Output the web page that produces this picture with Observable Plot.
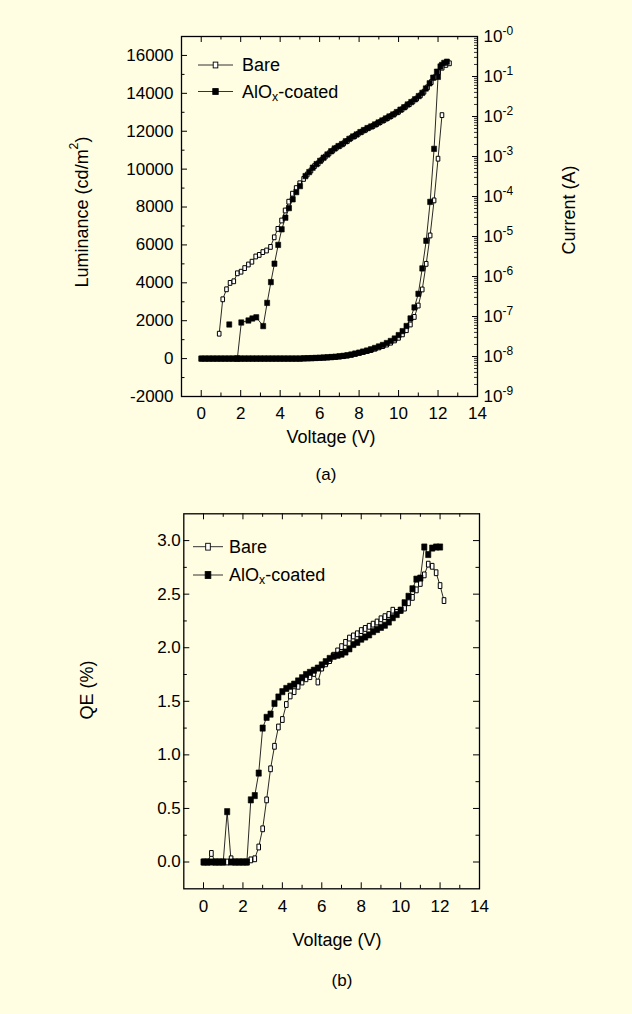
<!DOCTYPE html>
<html><head><meta charset="utf-8">
<script src="https://cdn.jsdelivr.net/npm/d3@7"></script>
<script src="https://cdn.jsdelivr.net/npm/@observablehq/plot@0.6"></script>
<style>
html,body{margin:0;padding:0;background:#FFFEE3;}
#root{position:relative;width:632px;height:1014px;background:#FFFEE3;overflow:hidden;}
#root svg{position:absolute;left:0;}
</style></head>
<body><div id="root"></div>
<script>
// ---------- data ----------
const voltLum = [0,0.2,0.4,0.6,0.8,1,1.2,1.4,1.6,1.8,2,2.2,2.4,2.6,2.8,3,3.2,3.4,3.6,3.8,4,4.2,4.4,4.6,4.8,5,5.2,5.4,5.6,5.8,6,6.2,6.4,6.6,6.8,7,7.2,7.4,7.6,7.8,8,8.2,8.4,8.6,8.8,9,9.2,9.4,9.6,9.8,10,10.2,10.4,10.6,10.8,11,11.2,11.4,11.6,11.8,12,12.2];
const lumBare = [0,0,0,0,0,0,0,0,0,0,0,0,0,0,0,0,0,0,0,0,0,0,0,0,0,0,10,15,20,30,40,50,60,75,90,110,130,160,200,250,300,350,400,450,520,590,660,740,840,960,1100,1280,1500,1800,2200,2800,3650,5000,6500,8350,10550,12850];
const lumCoated = [0,0,0,0,0,0,0,0,0,0,0,0,0,0,0,0,0,0,0,0,0,0,0,0,0,0,12,18,25,35,45,55,68,82,100,120,145,175,215,265,315,370,425,490,560,640,720,820,930,1060,1240,1450,1720,2120,2700,3420,4760,6220,8270,11070,14870,15500];

// current: log10 of current in A
const bareCurV = [0.91,1.09,1.28,1.46,1.65,1.83,2.02,2.20,2.39,2.57,2.76,2.94,3.12,3.31,3.51,3.70,3.88,4.07,4.25,4.43,4.62,4.81,4.99,5.19,5.37,5.56,5.74,5.93,6.11,6.29,6.48,6.67,6.85,7.04,7.22,7.41,7.59,7.78,7.96,8.15,8.33,8.51,8.70,8.89,9.07,9.26,9.44,9.62,9.81,10.00,10.18,10.37,10.55,10.73,10.92,11.11,11.29,11.47,11.66,11.84,12.03,12.21,12.40,12.58];
const bareCurLog = [-7.43,-6.57,-6.32,-6.16,-6.12,-5.92,-5.88,-5.79,-5.70,-5.63,-5.50,-5.46,-5.39,-5.35,-5.26,-5.02,-4.81,-4.60,-4.35,-4.13,-3.93,-3.79,-3.67,-3.56,-3.45,-3.35,-3.24,-3.17,-3.08,-3.00,-2.92,-2.85,-2.78,-2.73,-2.67,-2.61,-2.54,-2.49,-2.43,-2.38,-2.33,-2.28,-2.24,-2.19,-2.14,-2.09,-2.04,-1.99,-1.93,-1.88,-1.82,-1.75,-1.69,-1.62,-1.55,-1.47,-1.38,-1.27,-1.14,-1.02,-0.89,-0.78,-0.71,-0.67];
const coatCurV = [1.42,1.62,1.83,2.03,2.39,2.59,2.79,3.14,3.34,3.53,3.71,3.90,4.08,4.27,4.45,4.64,4.82,5.01,5.28,5.47,5.65,5.84,6.02,6.20,6.39,6.58,6.76,6.95,7.13,7.32,7.50,7.69,7.87,8.06,8.24,8.42,8.61,8.80,8.98,9.17,9.35,9.53,9.72,9.91,10.09,10.28,10.46,10.64,10.83,11.02,11.20,11.38,11.57,11.75,11.94,12.12,12.31,12.45];
const coatCurLog = [-7.20,null,-8.05,-7.15,-7.10,-7.05,-7.02,-7.24,-6.66,-6.14,-5.68,-5.21,-4.82,-4.53,-4.29,-4.07,-3.89,-3.74,-3.49,-3.39,-3.28,-3.19,-3.11,-3.03,-2.95,-2.87,-2.80,-2.74,-2.69,-2.62,-2.56,-2.50,-2.45,-2.39,-2.34,-2.29,-2.25,-2.20,-2.15,-2.10,-2.05,-2.00,-1.95,-1.89,-1.83,-1.77,-1.70,-1.64,-1.57,-1.49,-1.41,-1.30,-1.17,-1.03,-0.88,-0.75,-0.66,-0.63];

// QE (%)
const voltQE = [0,0.2,0.4,0.6,0.8,1,1.2,1.4,1.6,1.8,2,2.2,2.4,2.6,2.8,3,3.2,3.4,3.6,3.8,4,4.2,4.4,4.6,4.8,5,5.2,5.4,5.6,5.8,6,6.2,6.4,6.6,6.8,7,7.2,7.4,7.6,7.8,8,8.2,8.4,8.6,8.8,9,9.2,9.4,9.6,9.8,10,10.2,10.4,10.6,10.8,11,11.2,11.4,11.6,11.8,12,12.2];
const qeBare = [0,0,0.08,0,0,0,0,0.03,0,0,0,0,0.02,0.03,0.14,0.31,0.58,0.87,1.08,1.26,1.33,1.47,1.55,1.59,1.64,1.68,1.71,1.73,1.76,1.68,1.81,1.85,1.88,1.93,1.97,2.01,2.05,2.09,2.11,2.13,2.16,2.18,2.20,2.22,2.24,2.27,2.29,2.31,2.35,2.33,2.35,2.37,2.42,2.47,2.54,2.60,2.68,2.78,2.76,2.70,2.58,2.44];
const qeCoated = [0,0,0,0,0,0,0.47,0,0,0,0,0,0.58,0.62,0.83,1.25,1.35,1.38,1.48,1.54,1.59,1.62,1.64,1.66,1.69,1.72,1.75,1.77,1.79,1.81,1.84,1.87,1.90,1.92,1.93,1.94,1.96,1.99,2.03,2.05,2.08,2.10,2.12,2.15,2.17,2.19,2.21,2.24,2.28,2.31,2.35,2.42,2.48,2.55,2.64,2.65,2.94,2.87,2.93,2.94,2.94];

// ticks
const xMajor = [0,2,4,6,8,10,12,14];
const xMinor = [1,3,5,7,9,11,13];
const lumMajor = [-2000,0,2000,4000,6000,8000,10000,12000,14000,16000];
const lumMinor = [-1000,1000,3000,5000,7000,9000,11000,13000,15000];
const curMajor = [-9,-8,-7,-6,-5,-4,-3,-2,-1,0];
const qeMajor = [0,0.5,1,1.5,2,2.5,3];
const qeMinor = [0.25,0.75,1.25,1.75,2.25,2.75];
const seriesNames = ["Bare", "AlO|x|-coated"];

// ---------- helpers ----------
const INK = "#000";
const LINE = "#111";
const FONT = '"Liberation Sans", Arial, Helvetica, sans-serif';
const root = document.getElementById("root");

const curMinor = [];
for (let n = -9; n < 0; n++) for (let k = 2; k <= 9; k++) curMinor.push(n + Math.log10(k));

function rectSym(w, h) { return {draw(ctx) { ctx.rect(-w/2, -h/2, w, h); }}; }
const openA = rectSym(3.6, 4.8), fillA = rectSym(5, 5.4);
const openB = rectSym(3.6, 5.8), fillB = rectSym(5.2, 6.2);

const pts = (xs, ys) => xs.map((v, i) => ({v, y: ys[i] == null ? NaN : ys[i]})).filter(d => d.y !== undefined);

function richText(svg, x, y, parts, opts = {}) {
  const size = opts.size || 18;
  const t = d3.select(svg).append("text")
    .attr("x", x).attr("y", y)
    .attr("font-family", FONT).attr("font-size", size)
    .attr("fill", INK).attr("text-anchor", opts.anchor || "middle")
    .attr("dominant-baseline", "central");
  if (opts.rotate) t.attr("transform", `rotate(${opts.rotate} ${x} ${y})`);
  let shift = 0;
  for (const [s, kind] of parts) {
    const sp = t.append("tspan").text(s);
    const target = kind === "sup" ? -0.42 * size : kind === "sub" ? 0.3 * size : 0;
    if (target !== shift) { sp.attr("dy", target - shift); shift = target; }
    if (kind) sp.attr("font-size", size * 0.68);
  }
  return t;
}

function legend(svg, x1, x2, ys, tx, syms) {
  const g = d3.select(svg).append("g");
  seriesNames.forEach((name, i) => {
    const y = ys[i];
    g.append("line").attr("x1", x1).attr("x2", x2).attr("y1", y).attr("y2", y)
      .attr("stroke", "#333").attr("stroke-width", 1);
    const s = syms[i];
    g.append("rect").attr("x", (x1 + x2) / 2 - s.w / 2).attr("y", y - s.h / 2)
      .attr("width", s.w).attr("height", s.h)
      .attr("fill", i === 0 ? "#fff" : INK).attr("stroke", INK).attr("stroke-width", 0.9);
    const parts = name.split("|").map((p, j) => [p, j === 1 ? "sub" : null]);
    richText(svg, tx, y, parts, {anchor: "start", size: 18});
  });
}

const style = {background: "transparent", fontFamily: FONT, color: INK, overflow: "visible"};

// ---------- Panel (a) ----------
const A = {top: 36, bottom: 396, left: 181, right: 477, H: 460};
const fwA = A.right - A.left, fhA = A.bottom - A.top;

const lumBareData = pts(voltLum, lumBare);
const lumCoatData = pts(voltLum, lumCoated);
const curBareData = pts(bareCurV, bareCurLog);
const curCoatData = pts(coatCurV, coatCurLog);

const plotLum = Plot.plot({
  width: 632, height: A.H,
  marginTop: A.top, marginBottom: A.H - A.bottom, marginLeft: A.left, marginRight: 632 - A.right,
  style,
  x: {domain: [-1, 14]},
  y: {domain: [-2000, 17000]},
  marks: [
    Plot.tickX(xMajor, {x: d => d, insetTop: fhA - 6, stroke: INK}),
    Plot.tickX(xMinor, {x: d => d, insetTop: fhA - 3.5, stroke: INK}),
    Plot.tickX(xMajor, {x: d => d, insetBottom: fhA - 6, stroke: INK}),
    Plot.tickX(xMinor, {x: d => d, insetBottom: fhA - 3.5, stroke: INK}),
    Plot.tickY(lumMajor, {y: d => d, insetRight: fwA - 6, stroke: INK}),
    Plot.tickY(lumMinor, {y: d => d, insetRight: fwA - 3.5, stroke: INK}),
    Plot.axisX(xMajor, {tickSize: 0, tickPadding: 10, fontSize: 17, tickFormat: d => String(d), label: null}),
    Plot.axisY(lumMajor, {anchor: "left", tickSize: 0, tickPadding: 8, fontSize: 17, tickFormat: d => String(d), label: null}),
    Plot.line(lumBareData, {x: "v", y: "y", stroke: LINE, strokeWidth: 0.9}),
    Plot.line(lumCoatData, {x: "v", y: "y", stroke: LINE, strokeWidth: 0.9}),
    Plot.dot(lumBareData, {x: "v", y: "y", symbol: openA, fill: "#fff", stroke: INK, strokeWidth: 1}),
    Plot.dot(lumCoatData, {x: "v", y: "y", symbol: fillA, fill: INK, stroke: INK, strokeWidth: 0.6}),
    Plot.frame({stroke: INK, strokeWidth: 1.3})
  ]
});
plotLum.style.top = "0px";
root.appendChild(plotLum);

const plotCur = Plot.plot({
  width: 632, height: A.H,
  marginTop: A.top, marginBottom: A.H - A.bottom, marginLeft: A.left, marginRight: 632 - A.right,
  style,
  x: {domain: [-1, 14], axis: null},
  y: {domain: [-9, 0]},
  marks: [
    Plot.tickY(curMajor, {y: d => d, insetLeft: fwA - 5, stroke: INK}),
    Plot.tickY(curMinor, {y: d => d, insetLeft: fwA - 3, stroke: INK, strokeWidth: 0.8}),
    Plot.axisY(curMajor, {anchor: "right", tickSize: 0, tickPadding: 6, fontSize: 17,
      tickFormat: d => "10|" + (d === 0 ? "-0" : String(d)), label: null}),
    Plot.line(curBareData, {x: "v", y: "y", stroke: LINE, strokeWidth: 0.9}),
    Plot.line(curCoatData, {x: "v", y: "y", stroke: LINE, strokeWidth: 0.9}),
    Plot.dot(curBareData, {x: "v", y: "y", symbol: openA, fill: "#fff", stroke: INK, strokeWidth: 1}),
    Plot.dot(curCoatData, {x: "v", y: "y", symbol: fillA, fill: INK, stroke: INK, strokeWidth: 0.6})
  ]
});
plotCur.style.top = "0px";
root.appendChild(plotCur);

// superscript exponents on the current axis
d3.select(plotCur).selectAll("text").each(function() {
  const t = this.textContent;
  if (!t.includes("|")) return;
  const [base, exp] = t.split("|");
  this.textContent = base;
  d3.select(this).append("tspan").attr("dy", "-0.55em").attr("font-size", 12).text(exp);
});

richText(plotCur, 82, 212, [["Luminance (cd/m"], ["2", "sup"], [")"]], {rotate: -90});
richText(plotCur, 569, 210, [["Current (A)"]], {rotate: -90});
richText(plotCur, 331, 437, [["Voltage (V)"]]);
richText(plotCur, 326, 474, [["(a)"]], {size: 17});
legend(plotCur, 198, 233, [65, 91.5], 242, [{w: 4.6, h: 5.8}, {w: 5.4, h: 5.8}]);

// ---------- Panel (b) ----------
const B = {off: 480, top: 33.3, bottom: 408.3, left: 183.3, right: 479, H: 460};
const fwB = B.right - B.left, fhB = B.bottom - B.top;
const qeBareData = pts(voltQE, qeBare);
const qeCoatData = qeCoated.map((q, i) => ({v: voltQE[i], y: q}));

const plotQE = Plot.plot({
  width: 632, height: B.H,
  marginTop: B.top, marginBottom: B.H - B.bottom, marginLeft: B.left, marginRight: 632 - B.right,
  style,
  x: {domain: [-1, 14]},
  y: {domain: [-0.25, 3.25]},
  marks: [
    Plot.tickX(xMajor, {x: d => d, insetTop: fhB - 6, stroke: INK}),
    Plot.tickX(xMinor, {x: d => d, insetTop: fhB - 3.5, stroke: INK}),
    Plot.tickX(xMajor, {x: d => d, insetBottom: fhB - 6, stroke: INK}),
    Plot.tickX(xMinor, {x: d => d, insetBottom: fhB - 3.5, stroke: INK}),
    Plot.tickY(qeMajor, {y: d => d, insetRight: fwB - 6, stroke: INK}),
    Plot.tickY(qeMinor, {y: d => d, insetRight: fwB - 3.5, stroke: INK}),
    Plot.tickY(qeMajor, {y: d => d, insetLeft: fwB - 6, stroke: INK}),
    Plot.tickY(qeMinor, {y: d => d, insetLeft: fwB - 3.5, stroke: INK}),
    Plot.axisX(xMajor, {tickSize: 0, tickPadding: 11, fontSize: 17, tickFormat: d => String(d), label: null}),
    Plot.axisY(qeMajor, {anchor: "left", tickSize: 0, tickPadding: 3, fontSize: 17, tickFormat: d => d.toFixed(1), label: null}),
    Plot.line(qeBareData, {x: "v", y: "y", stroke: LINE, strokeWidth: 0.9}),
    Plot.line(qeCoatData, {x: "v", y: "y", stroke: LINE, strokeWidth: 0.9}),
    Plot.dot(qeBareData, {x: "v", y: "y", symbol: openB, fill: "#fff", stroke: INK, strokeWidth: 1}),
    Plot.dot(qeCoatData, {x: "v", y: "y", symbol: fillB, fill: INK, stroke: INK, strokeWidth: 0.6}),
    Plot.frame({stroke: INK, strokeWidth: 1.3})
  ]
});
plotQE.style.top = B.off + "px";
root.appendChild(plotQE);

richText(plotQE, 87, 690 - B.off, [["QE (%)"]], {rotate: -90});
richText(plotQE, 337, 940 - B.off, [["Voltage (V)"]]);
richText(plotQE, 342, 980 - B.off, [["(b)"]], {size: 17});
legend(plotQE, 193, 223, [546.7 - B.off, 575 - B.off], 229, [{w: 4.6, h: 6.8}, {w: 5.6, h: 6.8}]);
</script>
</body></html>
